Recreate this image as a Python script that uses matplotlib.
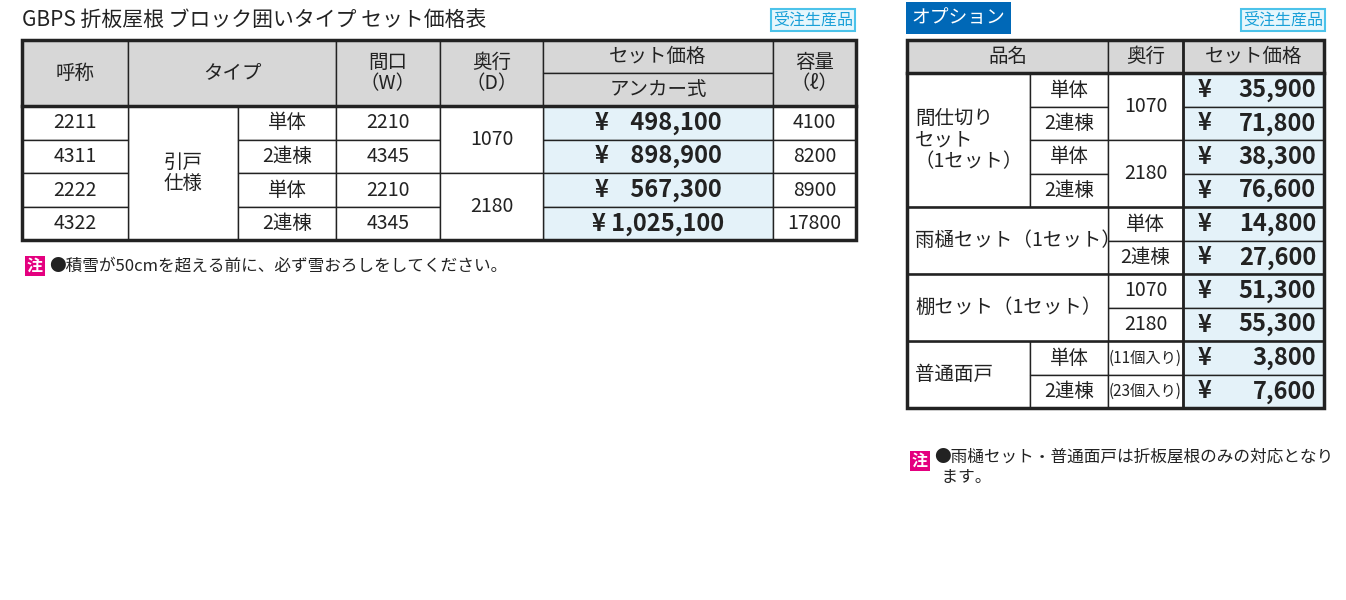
import matplotlib.pyplot as plt
from matplotlib.patches import Rectangle

plt.rcParams['font.family'] = ['Noto Sans CJK JP', 'DejaVu Sans']

# 左の表
title = 'GBPS 折板屋根 ブロック囲いタイプ セット価格表'
codes = ['2211', '4311', '2222', '4322']
units = ['単体', '2連棟', '単体', '2連棟']
widths = ['2210', '4345', '2210', '4345']
depths = ['1070', '2180']
prices = ['¥    498,100', '¥    898,900', '¥    567,300', '¥ 1,025,100']
volumes = ['4100', '8200', '8900', '17800']
note1 = '●積雪が50cmを超える前に、必ず雪おろしをしてください。'

# オプション表
opt_names = ['間仕切り\nセット\n（1セット）', '雨樋セット（1セット）', '棚セット（1セット）', '普通面戸']
opt_sub = ['単体', '2連棟', '単体', '2連棟', '単体', '2連棟', '1070', '2180', '単体', '2連棟']
opt_depth = ['1070', '2180']
opt_pack = ['(11個入り)', '(23個入り)']
opt_prices = ['35,900', '71,800', '38,300', '76,600', '14,800', '27,600',
              '51,300', '55,300', '3,800', '7,600']
note2 = '●雨樋セット・普通面戸は折板屋根のみの対応となり\n  ます。'

GREY = '#d7d7d7'
BLUE = '#e4f2f9'
FS = 14
fig = plt.figure(figsize=(13.46, 6), dpi=100)
ax = fig.add_axes([0, 0, 1, 1])
ax.set_xlim(0, 1346)
ax.set_ylim(600, 0)
ax.axis('off')


def cell(x0, y0, x1, y1, text='', fc='white', fs=FS, ha='center', weight='normal', lw=1):
    ax.add_patch(Rectangle((x0, y0), x1 - x0, y1 - y0, fc=fc, ec='#222222', lw=lw))
    if text:
        tx = (x0 + x1) / 2 if ha == 'center' else x0 + 8
        ax.text(tx, (y0 + y1) / 2, text, ha=ha, va='center', fontsize=fs,
                weight=weight, color='#222222', linespacing=1.05)


def frame(x0, y0, x1, y1):
    ax.add_patch(Rectangle((x0, y0), x1 - x0, y1 - y0, fc='none', ec='#222222', lw=2.5))


def badge(x, y, text):
    ax.text(x, y, text, ha='center', va='center', fontsize=11.5, color='#1aa0d8',
            bbox=dict(boxstyle='square,pad=0.15', fc='#e6f6fc', ec='#4cc3ea', lw=1.5))


def note(x, y, text):
    ax.text(x, y, '注', ha='center', va='center', fontsize=11.5, color='white', weight='bold',
            bbox=dict(boxstyle='square,pad=0.15', fc='#e4007f', ec='none'))
    return ax.text(x + 14, y, text, ha='left', va='top' if '\n' in text else 'center',
                   fontsize=12, color='#222222', linespacing=1.2)


ax.text(22, 20, title, ha='left', va='center', fontsize=15, color='#222222')
badge(813, 20, '受注生産品')

# 左表
xs = [22, 128, 238, 336, 440, 543, 773, 856]
ys = [40, 73, 106, 140, 173, 207, 240]
cell(xs[0], ys[0], xs[1], ys[2], '呼称', GREY)
cell(xs[1], ys[0], xs[3], ys[2], 'タイプ', GREY)
cell(xs[3], ys[0], xs[4], ys[2], '間口\n（W）', GREY)
cell(xs[4], ys[0], xs[5], ys[2], '奥行\n（D）', GREY)
cell(xs[5], ys[0], xs[6], ys[1], 'セット価格', GREY)
cell(xs[5], ys[1], xs[6], ys[2], 'アンカー式', GREY)
cell(xs[6], ys[0], xs[7], ys[2], '容量\n（ℓ）', GREY)
cell(xs[1], ys[2], xs[2], ys[6], '引戸\n仕様')
for i in range(4):
    y0, y1 = ys[2 + i], ys[3 + i]
    cell(xs[0], y0, xs[1], y1, codes[i])
    cell(xs[2], y0, xs[3], y1, units[i])
    cell(xs[3], y0, xs[4], y1, widths[i])
    cell(xs[5], y0, xs[6], y1, prices[i], BLUE, fs=17, weight='bold')
    cell(xs[6], y0, xs[7], y1, volumes[i])
for j in range(2):
    cell(xs[4], ys[2 + 2 * j], xs[5], ys[4 + 2 * j], depths[j])
frame(xs[0], ys[0], xs[-1], ys[-1])
ax.plot([xs[0], xs[-1]], [ys[2], ys[2]], color='#222222', lw=2.5)
note(35, 266, note1)

# オプション表
ax.text(958, 18, 'オプション', ha='center', va='center', fontsize=13.5, color='white',
        bbox=dict(boxstyle='square,pad=0.3', fc='#0068b7', ec='none'))
badge(1283, 20, '受注生産品')
ox = [907, 1030, 1108, 1183, 1324]
oy = [40, 73, 107, 140, 174, 207, 241, 274, 308, 341, 375, 408]
cell(ox[0], oy[0], ox[2], oy[1], '品名', GREY)
cell(ox[2], oy[0], ox[3], oy[1], '奥行', GREY)
cell(ox[3], oy[0], ox[4], oy[1], 'セット価格', GREY)
cell(ox[0], oy[1], ox[1], oy[5], opt_names[0], ha='left')
cell(ox[0], oy[9], ox[1], oy[11], opt_names[3], ha='left')
for i in range(10):
    y0, y1 = oy[1 + i], oy[2 + i]
    if i < 4:
        cell(ox[1], y0, ox[2], y1, opt_sub[i])
    elif i < 8:
        cell(ox[2], y0, ox[3], y1, opt_sub[i])
    else:
        cell(ox[1], y0, ox[2], y1, opt_sub[i])
        cell(ox[2], y0, ox[3], y1, opt_pack[i - 8], fs=11)
    cell(ox[3], y0, ox[4], y1, '', BLUE)
    ax.text(ox[3] + 22, (y0 + y1) / 2, '¥', ha='center', va='center', fontsize=17, weight='bold', color='#222222')
    ax.text(ox[4] - 8, (y0 + y1) / 2, opt_prices[i], ha='right', va='center', fontsize=17, weight='bold', color='#222222')
# 雨樋/棚: 品名列を2列分
for k in (5, 7):
    ax.add_patch(Rectangle((ox[0], oy[k]), ox[2] - ox[0], oy[k + 2] - oy[k], fc='white', ec='#222222', lw=1))
    ax.text(ox[0] + 8, (oy[k] + oy[k + 2]) / 2, opt_names[(k - 3) // 2], ha='left', va='center', fontsize=FS, color='#222222')
for j in range(2):
    cell(ox[2], oy[1 + 2 * j], ox[3], oy[3 + 2 * j], opt_depth[j])
frame(ox[0], oy[0], ox[-1], oy[-1])
for k in (1, 5, 7, 9):
    ax.plot([ox[0], ox[-1]], [oy[k], oy[k]], color='#222222', lw=2.5 if k == 1 else 1.8)
ax.plot([ox[3], ox[3]], [oy[0], oy[-1]], color='#222222', lw=2)
t = note(920, 461, note2)
t.set_y(449)

fig.savefig('out.png', dpi=100)
